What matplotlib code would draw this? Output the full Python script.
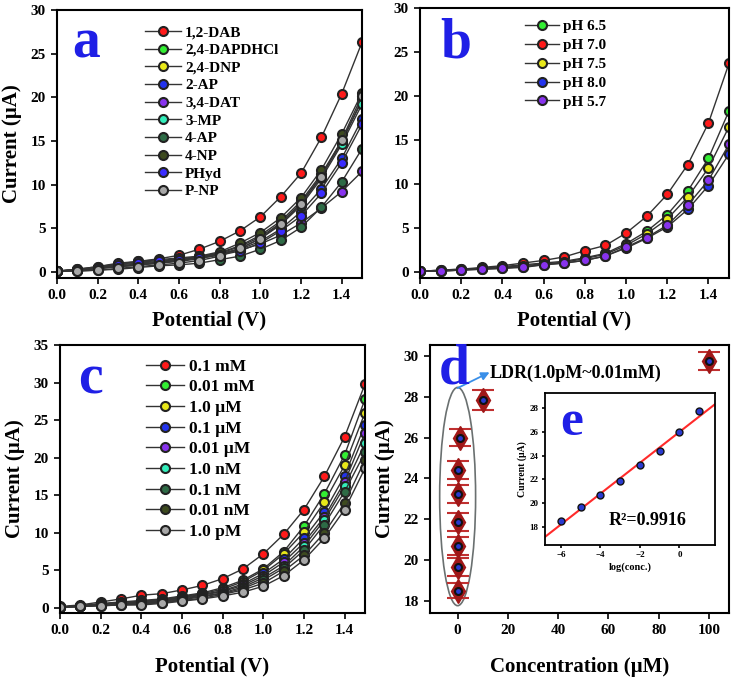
import numpy as np
import matplotlib
matplotlib.use("Agg")
import matplotlib.pyplot as plt
from matplotlib.patches import Ellipse

plt.rcParams['font.family'] = ['Liberation Serif', 'DejaVu Serif']
plt.rcParams['font.weight'] = 'bold'

# ---- data ----
potential = np.round(np.arange(0, 1.51, 0.1), 1)

a_labels = ['1,2-DAB', '2,4-DAPDHCl', '2,4-DNP', '2-AP', '3,4-DAT',
            '3-MP', '4-AP', '4-NP', 'PHyd', 'P-NP']
a_colors = ['#ff1a1a', '#33ee33', '#e8e81a', '#2233ee', '#8833ee',
            '#33eebb', '#2e6b46', '#3d4a1f', '#3a2cff', '#a8a8a8']
a_values = [
    [0.1, 0.3, 0.6, 0.9, 1.2, 1.5, 1.9, 2.6, 3.5, 4.7, 6.3, 8.6, 11.3, 15.4, 20.4, 26.3],
    [0.1, 0.2, 0.4, 0.7, 0.9, 1.1, 1.4, 1.7, 2.2, 3.0, 4.2, 5.8, 8.1, 11.2, 15.0, 19.6],
    [0.1, 0.2, 0.4, 0.6, 0.8, 1.0, 1.3, 1.6, 2.1, 2.9, 4.0, 5.6, 7.9, 11.0, 14.8, 19.8],
    [0.1, 0.2, 0.5, 0.9, 1.1, 1.3, 1.5, 1.7, 2.0, 2.6, 3.5, 4.9, 6.9, 9.5, 13.0, 17.5],
    [0.1, 0.3, 0.6, 1.0, 1.2, 1.4, 1.6, 1.8, 2.1, 2.5, 3.2, 4.2, 5.6, 7.3, 9.2, 11.5],
    [0.1, 0.2, 0.4, 0.6, 0.8, 1.0, 1.2, 1.5, 2.0, 2.7, 3.8, 5.4, 7.6, 10.7, 14.6, 19.2],
    [0.1, 0.1, 0.2, 0.3, 0.5, 0.7, 0.8, 1.0, 1.4, 1.8, 2.6, 3.6, 5.1, 7.4, 10.3, 14.1],
    [0.1, 0.2, 0.4, 0.6, 0.8, 1.1, 1.4, 1.8, 2.3, 3.3, 4.5, 6.2, 8.5, 11.7, 15.8, 20.5],
    [0.1, 0.2, 0.5, 0.8, 1.0, 1.2, 1.4, 1.6, 1.9, 2.4, 3.3, 4.7, 6.4, 9.0, 12.5, 16.9],
    [0.1, 0.1, 0.2, 0.4, 0.6, 0.8, 1.0, 1.3, 1.8, 2.7, 3.8, 5.5, 7.8, 10.9, 15.1, 20.2],
]

b_labels = ['pH 6.5', 'pH 7.0', 'pH 7.5', 'pH 8.0', 'pH 5.7']
b_colors = ['#33ee33', '#ff1a1a', '#e8e81a', '#2233ee', '#8833ee']
b_values = [
    [0.05, 0.2, 0.3, 0.4, 0.6, 0.8, 1.0, 1.2, 1.6, 2.1, 3.2, 4.6, 6.5, 9.2, 12.9, 18.3],
    [0.05, 0.2, 0.3, 0.5, 0.7, 1.0, 1.3, 1.7, 2.4, 3.0, 4.4, 6.3, 8.8, 12.2, 16.9, 23.7],
    [0.05, 0.1, 0.2, 0.4, 0.5, 0.7, 0.9, 1.1, 1.5, 2.0, 3.0, 4.3, 6.0, 8.5, 11.8, 16.5],
    [0.05, 0.1, 0.2, 0.3, 0.4, 0.6, 0.8, 1.0, 1.3, 1.8, 2.7, 3.8, 5.1, 7.1, 9.8, 13.4],
    [0.05, 0.1, 0.2, 0.3, 0.4, 0.5, 0.8, 1.0, 1.3, 1.8, 2.8, 3.9, 5.3, 7.6, 10.4, 14.5],
]

c_labels = ['0.1 mM', '0.01 mM', '1.0 µM', '0.1 µM', '0.01 µM',
            '1.0 nM', '0.1 nM', '0.01 nM', '1.0 pM']
c_colors = ['#ff1a1a', '#33ee33', '#e8e81a', '#2233ee', '#8833ee',
            '#33eebb', '#2e6b46', '#3d4a1f', '#a8a8a8']
c_values = [
    [0.2, 0.4, 0.8, 1.2, 1.7, 1.9, 2.4, 3.0, 3.9, 5.2, 7.2, 9.8, 13.1, 17.5, 22.8, 29.8],
    [0.1, 0.3, 0.6, 0.8, 1.0, 1.2, 1.6, 2.0, 2.7, 3.7, 5.2, 7.5, 10.9, 15.2, 20.4, 27.8],
    [0.1, 0.3, 0.5, 0.7, 0.9, 1.1, 1.5, 1.9, 2.5, 3.5, 5.0, 7.2, 10.1, 14.1, 19.0, 26.0],
    [0.1, 0.3, 0.5, 0.6, 0.8, 1.0, 1.4, 1.8, 2.3, 3.2, 4.6, 6.5, 9.3, 12.8, 17.6, 24.4],
    [0.1, 0.2, 0.4, 0.6, 0.7, 1.0, 1.3, 1.7, 2.2, 3.0, 4.3, 6.1, 8.7, 12.1, 16.8, 23.3],
    [0.1, 0.2, 0.4, 0.5, 0.7, 0.9, 1.2, 1.6, 2.0, 2.8, 4.0, 5.6, 8.2, 11.7, 16.2, 21.9],
    [0.1, 0.2, 0.4, 0.5, 0.6, 0.8, 1.1, 1.5, 1.9, 2.6, 3.7, 5.3, 7.7, 11.1, 15.5, 20.7],
    [0.1, 0.2, 0.3, 0.4, 0.5, 0.7, 1.0, 1.3, 1.8, 2.4, 3.3, 4.9, 7.0, 10.0, 14.0, 19.7],
    [0.1, 0.2, 0.3, 0.4, 0.4, 0.6, 0.9, 1.2, 1.6, 2.1, 2.9, 4.3, 6.4, 9.3, 13.1, 18.6],
]

conc_uM = [1e-6, 1e-5, 1e-4, 1e-3, 1e-2, 0.1, 1.0, 10.0, 100.0]
d_current = [18.5, 19.65, 20.7, 21.85, 23.25, 24.4, 26.0, 27.85, 29.75]
d_error = [0.35, 0.45, 0.45, 0.45, 0.45, 0.45, 0.42, 0.48, 0.43]

log_conc = [-6, -5, -4, -3, -2, -1, 0, 1]
e_current = [18.5, 19.65, 20.7, 21.85, 23.2, 24.35, 26.0, 27.75]

W, H = 734, 681
fig = plt.figure(figsize=(W / 100, H / 100), dpi=100)


def box(l, t, r, b):
    return [l / W, 1 - b / H, (r - l) / W, (b - t) / H]


def style(ax, fs=11):
    for s in ax.spines.values():
        s.set_linewidth(1.5)
    ax.tick_params(direction='out', length=4, width=1.2, labelsize=fs, pad=4)
    for lab in ax.get_xticklabels() + ax.get_yticklabels():
        lab.set_fontweight('bold')


def curves(ax, values, colors, labels):
    for v, c, lab in zip(values, colors, labels):
        ax.plot(potential, v, '-o', color='#333333', lw=1, ms=6.5,
                mfc=c, mec='#222222', mew=1.5, label=lab)


def letter(x, y, s, size=40):
    fig.text(x / W, 1 - y / H, s, color='#1f1fe6', fontsize=size,
             fontweight='bold', ha='left', va='baseline')


# ---- panel a ----
ax_a = fig.add_axes(box(57, 10, 362, 278))
curves(ax_a, a_values, a_colors, a_labels)
ax_a.set_xlim(0, 1.5)
ax_a.set_ylim(-0.7, 30)
ax_a.set_xticks(np.arange(0, 1.41, 0.2))
ax_a.set_yticks(range(0, 31, 5))
ax_a.set_xlabel('Potential (V)', fontsize=15, fontweight='bold', labelpad=6)
ax_a.set_ylabel('Current (µA)', fontsize=15, fontweight='bold', labelpad=6)
ax_a.legend(loc='upper left', bbox_to_anchor=(0.27, 0.965), frameon=False,
            prop={'weight': 'bold', 'size': 11}, handlelength=2.3,
            handletextpad=0.3, labelspacing=0.26, borderaxespad=0)
style(ax_a)

# ---- panel b ----
ax_b = fig.add_axes(box(420, 8, 729, 278))
curves(ax_b, b_values, b_colors, b_labels)
ax_b.set_xlim(0, 1.5)
ax_b.set_ylim(-0.7, 30)
ax_b.set_xticks(np.arange(0, 1.41, 0.2))
ax_b.set_yticks(range(0, 31, 5))
ax_b.set_xlabel('Potential (V)', fontsize=15, fontweight='bold', labelpad=6)
ax_b.legend(loc='upper left', bbox_to_anchor=(0.32, 0.98), frameon=False,
            prop={'weight': 'bold', 'size': 11}, handlelength=2.2,
            handletextpad=0.3, labelspacing=0.34, borderaxespad=0)
style(ax_b)

# ---- panel c ----
ax_c = fig.add_axes(box(60, 345, 365, 613))
curves(ax_c, c_values, c_colors, c_labels)
ax_c.set_xlim(0, 1.5)
ax_c.set_ylim(-0.67, 35)
ax_c.set_xticks(np.arange(0, 1.41, 0.2))
ax_c.set_yticks(range(0, 36, 5))
ax_c.set_xlabel('Potential (V)', fontsize=15, fontweight='bold', labelpad=14)
ax_c.set_ylabel('Current (µA)', fontsize=15, fontweight='bold', labelpad=6)
ax_c.legend(loc='upper left', bbox_to_anchor=(0.26, 0.975), frameon=False,
            prop={'weight': 'bold', 'size': 12.5}, handlelength=2.2,
            handletextpad=0.25, labelspacing=0.26, borderaxespad=0)
style(ax_c)

# ---- panel d ----
ax_d = fig.add_axes(box(430, 345, 729, 613))
ax_d.errorbar(conc_uM, d_current, yerr=d_error, fmt='none', ecolor='#c03030',
              elinewidth=1.2, capsize=8, capthick=1.5, zorder=2)
ax_d.plot(conc_uM, d_current, 'd', ms=12, mfc='#a01818', mec='#a01818', zorder=3)
ax_d.plot(conc_uM, d_current, 'o', ms=5, mfc='#2a3ad0', mec='#111111', mew=1.5, zorder=4)
ax_d.add_patch(Ellipse((0, 23.11), 14.3, 10.7, fill=False, ec='#6a7070', lw=1.2))
ax_d.annotate('', xy=(12.7, 29.2), xytext=(0, 28.43),
              arrowprops=dict(arrowstyle='-|>', color='#3a8fe8', lw=1.3,
                              mutation_scale=12, shrinkA=0, shrinkB=0))
ax_d.text(12.7, 28.92, 'LDR(1.0pM~0.01mM)', fontsize=13, fontweight='bold',
          ha='left', va='baseline')
ax_d.set_xlim(-11, 108)
ax_d.set_ylim(17.4, 30.54)
ax_d.set_xticks(range(0, 101, 20))
ax_d.set_yticks(range(18, 31, 2))
ax_d.set_xlabel('Concentration (µM)', fontsize=15, fontweight='bold', labelpad=14)
ax_d.set_ylabel('Current (µA)', fontsize=15, fontweight='bold', labelpad=6)
style(ax_d)

# ---- inset e ----
ax_e = fig.add_axes(box(545, 393, 715, 545))
fit = np.polyfit(log_conc, e_current, 1)
xx = np.array([-6.8, 1.8])
ax_e.plot(xx, np.polyval(fit, xx), color='#ff2a2a', lw=1.5, zorder=2)
ax_e.plot(log_conc, e_current, 'o', ms=5, mfc='#2a3ad0', mec='#111111', mew=1, zorder=3)
ax_e.set_xlim(-6.8, 1.8)
ax_e.set_ylim(16.5, 29.26)
ax_e.set_xticks(range(-6, 1, 2))
ax_e.set_yticks(range(18, 29, 2))
ax_e.set_xlabel('log(conc.)', fontsize=7.5, fontweight='bold', labelpad=2)
ax_e.set_ylabel('Current (µA)', fontsize=7, fontweight='bold', labelpad=2)
ax_e.text(609 / W, 1 - 525 / H, 'R²=0.9916', transform=fig.transFigure,
          fontsize=13, fontweight='bold', ha='left', va='baseline')
style(ax_e, fs=6.5)
ax_e.tick_params(length=2.5, pad=2)
for s in ax_e.spines.values():
    s.set_linewidth(1.3)

letter(72, 57, 'a')
letter(440, 58, 'b')
letter(78, 393, 'c')
letter(439, 383, 'd')
letter(560, 435, 'e', size=37)

fig.savefig('out.png', dpi=100)
